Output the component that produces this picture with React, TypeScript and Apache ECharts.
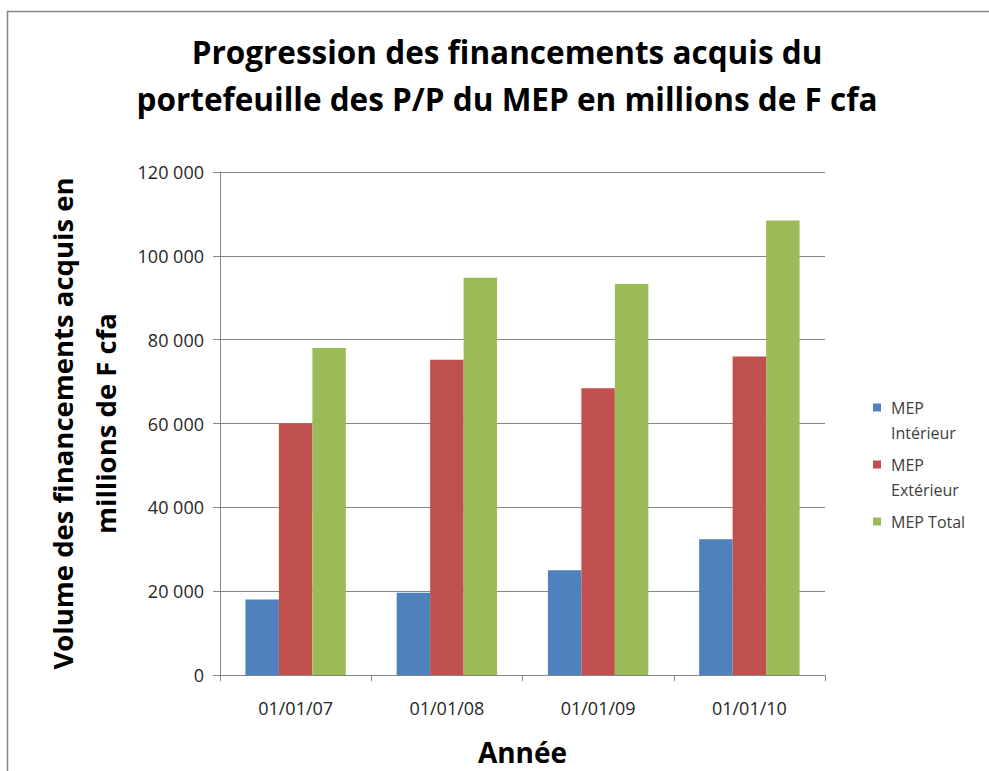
import React, { useEffect, useRef } from "react";
import * as echarts from "echarts";

const categories = ["01/01/07", "01/01/08", "01/01/09", "01/01/10"];
const seriesNames = ["MEP Intérieur", "MEP Extérieur", "MEP Total"];
const interieur = [18000, 19600, 25000, 32400];
const exterieur = [60000, 75200, 68400, 76000];
const total = [78000, 94800, 93300, 108400];
const colors = ["#4F81BD", "#C0504D", "#9BBB59"];
const titleText =
  "Progression des financements acquis du\nportefeuille des P/P du MEP en millions de F cfa";
const yName = "Volume des financements acquis en\nmillions de F cfa";
const xName = "Année";

const FONT = "'Open Sans', 'Liberation Sans', sans-serif";

// legend labels: first line aligned with the colour square
const legendFormat = (name: string) => {
  if (name === "MEP Intérieur") return "\nMEP\nIntérieur";
  if (name === "MEP Extérieur") return "\nMEP\nExtérieur";
  return "\nMEP Total\n";
};

export default function App() {
  const ref = useRef<HTMLDivElement>(null);
  useEffect(() => {
    if (!ref.current) return;
    const chart = echarts.init(ref.current, null, { renderer: "svg" });
    const values = [interieur, exterieur, total];
    const fmt = (v: number) =>
      String(v).replace(/\B(?=(\d{3})+(?!\d))/g, " ");
    chart.setOption({
      animation: false,
      backgroundColor: "#ffffff",
      textStyle: { fontFamily: FONT },
      title: {
        text: titleText,
        left: 507,
        top: 28,
        padding: 0,
        textAlign: "center",
        textStyle: {
          fontFamily: FONT,
          fontSize: 31.5,
          fontWeight: "bold",
          color: "#000000",
          lineHeight: 47,
        },
      },
      graphic: [
        {
          type: "rect",
          shape: { x: 7.5, y: 11.5, width: 1200, height: 1000 },
          style: { fill: "none", stroke: "#868686", lineWidth: 1.5 },
          silent: true,
        },
      ],
      legend: {
        orient: "vertical",
        left: 873,
        top: 370,
        padding: 0,
        itemGap: -18,
        itemWidth: 8,
        itemHeight: 8,
        icon: "rect",
        formatter: legendFormat,
        textStyle: {
          fontFamily: FONT,
          fontSize: 16,
          color: "#404040",
          lineHeight: 25,
          padding: [0, 0, 0, 5],
        },
        data: seriesNames,
      },
      grid: { left: 220, right: 164, top: 172, bottom: 91 },
      xAxis: {
        type: "category",
        data: categories,
        name: xName,
        nameLocation: "middle",
        nameGap: 63,
        nameTextStyle: {
          fontFamily: FONT,
          fontSize: 28,
          fontWeight: "bold",
          color: "#000000",
        },
        axisLine: { show: true, lineStyle: { color: "#868686", width: 1 } },
        axisTick: { show: true, length: 6, lineStyle: { color: "#868686" } },
        axisLabel: {
          fontFamily: FONT,
          fontSize: 18,
          color: "#262626",
          margin: 24,
        },
      },
      yAxis: {
        type: "value",
        min: 0,
        max: 120000,
        interval: 20000,
        name: yName,
        nameLocation: "middle",
        nameRotate: 90,
        nameGap: 74,
        nameTextStyle: {
          fontFamily: FONT,
          fontSize: 27.5,
          fontWeight: "bold",
          color: "#000000",
          lineHeight: 43,
        },
        axisLine: { show: true, lineStyle: { color: "#868686", width: 1 } },
        axisTick: { show: true, length: 7, lineStyle: { color: "#868686" } },
        splitLine: { show: true, lineStyle: { color: "#868686", width: 1 } },
        axisLabel: {
          fontFamily: FONT,
          fontSize: 18,
          color: "#262626",
          margin: 16,
          formatter: (v: number) => fmt(v),
        },
      },
      series: seriesNames.map((n, i) => ({
        name: n,
        type: "bar",
        data: values[i],
        barGap: "0%",
        barCategoryGap: "33.6%",
        itemStyle: { color: colors[i] },
      })),
    });
    return () => chart.dispose();
  }, []);
  return (
    <div
      ref={ref}
      style={{ position: "fixed", left: 0, top: 0, width: 989, height: 771 }}
    />
  );
}
